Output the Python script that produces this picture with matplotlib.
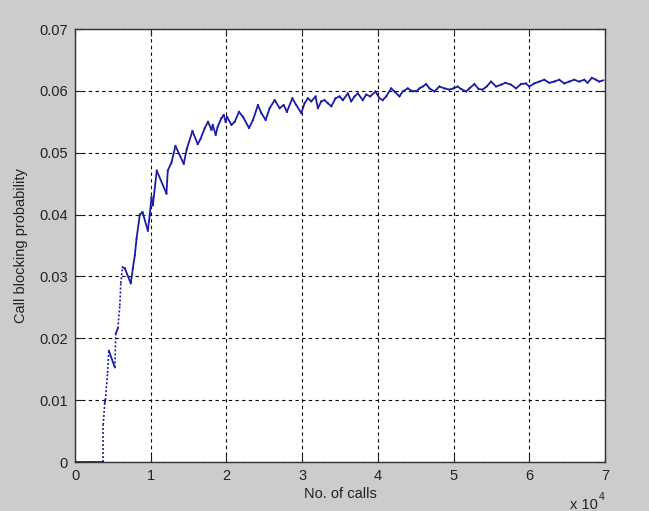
import matplotlib
matplotlib.use("Agg")
import matplotlib.pyplot as plt

# Data (x = number of calls, y = blocking probability)
calls = [0, 3720, 3720, 3940, 4010, 4300, 4470, 5260, 5390, 5660, 5920, 6050,
         6280, 6580, 7370, 7640, 7900, 8130, 8560, 8920, 9620, 9880, 10100,
         10280, 10800, 12080, 12250, 12740, 13270, 14360, 14760, 15510, 16210,
         16570, 17140, 17570, 18020, 18190, 18580, 18850, 19340, 19640, 19900,
         20080, 20660, 21090, 21660, 22190, 22980, 23510, 24160, 24610, 25180,
         25710, 26370, 27030, 27560, 27990, 28700, 29230, 29890, 30320, 30760,
         31210, 31770, 32080, 32530, 32960, 33400, 33850, 34410, 34940, 35380,
         36040, 36480, 36920, 37350, 38010, 38460, 38990, 39690, 40220, 40650,
         41100, 41760, 42190, 42850, 43290, 43950, 44610, 45060, 45490, 45930,
         46380, 46820, 47470, 48130, 48790, 49450, 49980, 50540, 50990, 51650,
         52090, 52750, 53310, 53840, 54370, 54950, 55610, 56270, 56840, 57590,
         58250, 58910, 59570, 60000, 60660, 61320, 61980, 62640, 63300, 63960,
         64620, 65280, 65940, 66600, 67260, 67690, 68270, 68800, 69230, 69760]
prob = [0, 0, 0.0060, 0.0097, 0.0100, 0.0144, 0.0180, 0.0153, 0.0208, 0.0216,
        0.0253, 0.0289, 0.0315, 0.0313, 0.0289, 0.0313, 0.0334, 0.0361, 0.0400,
        0.0404, 0.0374, 0.0400, 0.0428, 0.0415, 0.0471, 0.0434, 0.0471, 0.0484,
        0.0511, 0.0482, 0.0506, 0.0535, 0.0514, 0.0522, 0.0540, 0.0550, 0.0537,
        0.0545, 0.0529, 0.0542, 0.0556, 0.0561, 0.0550, 0.0558, 0.0545, 0.0550,
        0.0566, 0.0558, 0.0540, 0.0553, 0.0577, 0.0564, 0.0553, 0.0572, 0.0585,
        0.0572, 0.0577, 0.0566, 0.0588, 0.0577, 0.0564, 0.0580, 0.0588, 0.0583,
        0.0591, 0.0572, 0.0583, 0.0585, 0.0580, 0.0575, 0.0588, 0.0591, 0.0585,
        0.0596, 0.0583, 0.0591, 0.0596, 0.0585, 0.0594, 0.0591, 0.0599, 0.0588,
        0.0585, 0.0591, 0.0604, 0.0599, 0.0591, 0.0599, 0.0604, 0.0599, 0.0599,
        0.0604, 0.0607, 0.0611, 0.0604, 0.0599, 0.0607, 0.0604, 0.0602, 0.0604,
        0.0607, 0.0603, 0.0599, 0.0604, 0.0611, 0.0603, 0.0602, 0.0607, 0.0615,
        0.0607, 0.0610, 0.0613, 0.0610, 0.0604, 0.0611, 0.0612, 0.0607, 0.0612,
        0.0615, 0.0618, 0.0613, 0.0615, 0.0618, 0.0612, 0.0615, 0.0618, 0.0615,
        0.0618, 0.0613, 0.0621, 0.0618, 0.0615, 0.0617]

xticks = [0, 10000, 20000, 30000, 40000, 50000, 60000, 70000]
xticklabels = ["0", "1", "2", "3", "4", "5", "6", "7"]
yticks = [0, 0.01, 0.02, 0.03, 0.04, 0.05, 0.06, 0.07]
yticklabels = ["0", "0.01", "0.02", "0.03", "0.04", "0.05", "0.06", "0.07"]

plt.rcParams['font.family'] = ['Liberation Sans', 'DejaVu Sans']

bg = '#cccccc'
line_color = '#1c1ca6'
text_color = '#222222'

fig = plt.figure(figsize=(6.49, 5.11), dpi=100, facecolor=bg)
ax = fig.add_axes([75/649, 1 - 462/511, 530/649, 433/511])
ax.set_facecolor('white')

# line: the early steep rises look dotted, the rest is solid
for i in range(len(calls) - 1):
    x0, x1 = calls[i], calls[i + 1]
    y0, y1 = prob[i], prob[i + 1]
    dotted = (y1 - y0) > 0.0015 and x1 < 6500
    ax.plot([x0, x1], [y0, y1], color=line_color,
            lw=1.2 if dotted else 1.3,
            linestyle=(0, (1.2, 1.2)) if dotted else '-',
            solid_joinstyle='miter', zorder=3)

ax.set_xlim(0, 70000)
ax.set_ylim(0, 0.07)
ax.set_xticks(xticks)
ax.set_xticklabels(xticklabels)
ax.set_yticks(yticks)
ax.set_yticklabels(yticklabels)

ax.grid(True, color='black', linestyle=(0, (3, 3)), linewidth=0.8)
ax.tick_params(direction='in', length=5, width=0.8, top=True, right=True,
               labelsize=10.5, colors=text_color, pad=5)
for s in ax.spines.values():
    s.set_color('#333333')
    s.set_linewidth(1.0)

ax.set_xlabel('No. of calls', fontsize=10.5, color=text_color, labelpad=3)
ax.set_ylabel('Call blocking probability', fontsize=10.5, color=text_color, labelpad=8)

fig.text(598/649, 1 - 505/511, 'x 10', fontsize=10.5, color=text_color,
         ha='right', va='center')
fig.text(599/649, 1 - 497/511, '4', fontsize=7.5, color=text_color,
         ha='left', va='center')

fig.savefig('out.png', dpi=100, facecolor=bg)
